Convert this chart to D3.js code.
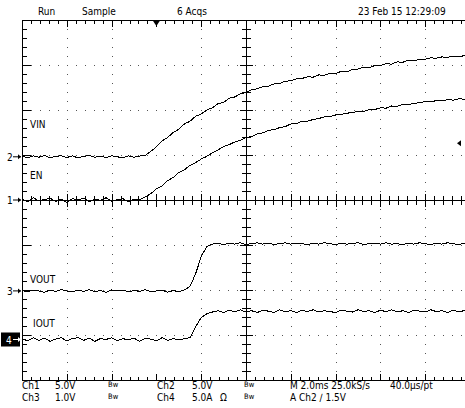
<!DOCTYPE html>
<html lang="en">
<head>
<meta charset="UTF-8">
<title>Scope capture</title>
<script src="https://d3js.org/d3.v7.min.js"></script>
<style>
  body { margin: 0; background: #fff; }
  svg text { font-family: "Liberation Sans Narrow", "DejaVu Sans Condensed", "Liberation Sans", sans-serif; font-size: 10px; fill: #000; }
</style>
</head>
<body>
<svg id="scope" width="465" height="408"></svg>
<script>
// sample times, ms from trigger (2 ms/div)
var timeMs = [-6,-5.75,-5.5,-5.25,-5,-4.75,-4.5,-4.25,-4,-3.75,-3.5,-3.25,-3,-2.75,-2.5,-2.25,-2,-1.75,-1.5,-1.25,-1,-0.75,-0.5,-0.25,
  0,0.25,0.5,0.75,1,1.25,1.5,1.75,2,2.25,2.5,2.75,3,3.25,3.5,3.75,4,4.25,4.5,4.75,5,5.25,5.5,5.75,6,6.25,6.5,6.75,7,7.25,7.5,7.75,
  8,8.25,8.5,8.75,9,9.25,9.5,9.75,10,10.25,10.5,10.75,11,11.25,11.5,11.75,12,12.25,12.5,12.75,13,13.25,13.5,13.75,14];

// Ch2 VIN (V)
var vin = [0.05,-0.1,0.1,-0.05,0.15,-0.1,0.05,0.12,-0.08,0.1,-0.12,0.05,0.15,-0.05,0.08,-0.1,0.12,0,-0.1,0.1,-0.05,0.08,
  0.15,0.6,1.1,1.75,2.15,2.7,3.05,3.65,3.95,4.5,4.75,5.2,5.45,5.9,6.05,6.5,6.65,7.0,7.15,7.45,7.55,7.8,7.85,8.1,8.15,8.4,
  8.45,8.65,8.7,8.9,8.85,9.1,9.05,9.3,9.25,9.5,9.45,9.7,9.75,9.95,9.9,10.15,10.15,10.35,10.3,10.55,10.5,10.75,10.65,10.85,
  10.85,11.0,10.95,11.1,11.05,11.2,11.1,11.25,11.2];

// Ch1 EN (V)
var en = [0.1,-0.2,0.25,-0.1,0.05,0.2,-0.15,0.1,-0.25,0.15,0,0.2,-0.2,0.1,-0.05,0.25,-0.15,0.05,0.15,-0.2,0.1,0.05,
  0.35,0.7,1.25,1.55,2.15,2.5,3.05,3.35,3.85,4.15,4.55,4.85,5.25,5.55,5.95,6.15,6.45,6.65,6.95,7.05,7.35,7.45,7.75,7.8,
  8.05,8.15,8.45,8.5,8.75,8.75,8.95,9.05,9.25,9.25,9.45,9.5,9.65,9.7,9.85,9.85,10.05,10.05,10.25,10.2,10.45,10.4,10.65,
  10.6,10.75,10.8,10.95,10.9,11.05,11.0,11.15,11.1,11.25,11.2,11.25];

// Ch3 VOUT (V)
var vout = [0.01,-0.02,0.02,0,-0.03,0.02,-0.01,0.03,0,-0.02,0.02,-0.01,0.03,-0.02,0.01,-0.03,0.02,0,0.02,-0.02,0.01,-0.01,
  0.03,-0.02,0,0.02,-0.03,0.01,-0.02,0.02,
  0.1,0.38,0.76,0.99,1.04,1.06,1.03,1.06,1.04,1.07,1.03,1.05,1.07,1.04,1.06,1.03,1.05,1.07,1.04,1.06,1.05,1.03,1.06,1.04,
  1.07,1.05,1.03,1.06,1.04,1.05,1.07,1.03,1.05,1.06,1.04,1.07,1.04,1.05,1.03,1.06,1.04,1.07,1.05,1.03,1.06,1.04,1.07,
  1.05,1.03,1.06,1.04];

// Ch4 IOUT (A)
var iout = [0.1,-0.15,0.2,-0.1,0.15,-0.2,0.05,0.2,-0.15,0.1,0.2,-0.1,0.15,-0.2,0.1,0,0.2,-0.15,0.1,-0.05,0.15,-0.2,
  0.1,0.05,-0.15,0.2,-0.1,0.1,-0.05,0.1,
  0.2,1.4,2.45,2.85,3.05,3.2,3.0,3.25,3.1,3.3,3.05,3.2,3.0,3.25,3.15,3.0,3.3,3.1,3.2,3.0,3.25,3.1,3.3,3.05,3.2,3.1,3.0,
  3.25,3.15,3.05,3.3,3.1,3.2,3.0,3.25,3.1,3.3,3.05,3.2,3.0,3.25,3.15,3.05,3.3,3.1,3.2,3.0,3.25,3.1,3.2,3.05];

var channelNames = ["Ch1", "Ch2", "Ch3", "Ch4"];
var traceLabels = ["EN", "VIN", "VOUT", "IOUT"];
var unitsPerDiv = [5, 5, 1, 5];
var groundDiv = [0, 0.96, -2.02, -3.1];   // ground marker, divisions from centre

var headerTexts = ["Run", "Sample", "6 Acqs", "23 Feb 15 12:29:09"];
var statusRow1 = ["Ch1", "5.0V", "Bw", "Ch2", "5.0V", "Bw", "M 2.0ms 25.0kS/s", "40.0\u00b5s/pt"];
var statusRow2 = ["Ch3", "1.0V", "Bw", "Ch4", "5.0A", "\u03a9", "Bw", "A  Ch2  \u2215  1.5V"];
var triggerLevel = 1.5;   // V on Ch2

var svg = d3.select("#scope");
var x = d3.scaleLinear().domain([-6, 14]).range([22, 470]);
var gy = d3.scaleLinear().domain([-4, 4]).range([380, 20]);

var grid = svg.append("g");

function pix(px, py, w, h, col) {
  grid.append("rect").attr("x", px).attr("y", py).attr("width", w).attr("height", h).attr("fill", col || "#000");
}

var L = Math.round(x(-6)), T = Math.round(gy(4)), B = Math.round(gy(-4)), R = Math.round(x(14));
var CX = Math.round(x(4)), CY = Math.round(gy(0));

// frame and centre cross
pix(L, T, R - L, 1);
pix(L, B, R - L, 1);
pix(L, T, 1, B - T + 1);
pix(CX, T, 1, B - T);
pix(L, CY, R - L, 1);

// dotted major lines
var minorX = d3.range(1, 50).map(function(i) { return -6 + i * 0.4; });
var minorY = d3.range(1, 40).map(function(i) { return -4 + i * 0.2; });
[-4, -2, 2, 4, 6, 8, 10, 12].forEach(function(t) {
  minorY.forEach(function(d) { pix(Math.round(x(t)), Math.round(gy(d)), 1, 1, "#555"); });
});
[-3, -2, -1, 1, 2, 3].forEach(function(dv) {
  minorX.forEach(function(d) { pix(Math.round(x(d)), Math.round(gy(dv)), 1, 1, "#555"); });
});

function isMajorX(t) { return Math.abs((t + 6) / 2 - Math.round((t + 6) / 2)) < 1e-6; }
function isMajorY(d) { return Math.abs(d - Math.round(d)) < 1e-6; }

// ticks along top/bottom border and horizontal centre line
minorX.forEach(function(d) {
  var xx = Math.round(x(d));
  var len = isMajorX(d) ? 7 : 4;
  var half = isMajorX(d) ? 6 : 4;
  pix(xx, T, 1, len);
  pix(xx, B - len + 1, 1, len);
  pix(xx, CY - half, 1, 2 * half + 1);
});
// ticks along left border and vertical centre line
minorY.forEach(function(d) {
  var yy = Math.round(gy(d));
  var len = isMajorY(d) ? 9 : 5;
  var half = isMajorY(d) ? 6 : 4;
  pix(L, yy, len, 1);
  pix(CX - half, yy, 2 * half + 1, 1);
});

// traces
var series = [en, vin, vout, iout];
svg.append("clipPath").attr("id", "plotClip").append("rect")
  .attr("x", L).attr("y", T).attr("width", R - L).attr("height", B - T);

series.forEach(function(vals, c) {
  var line = d3.line()
    .x(function(d, i) { return x(timeMs[i]); })
    .y(function(d) { return gy(groundDiv[c] + d / unitsPerDiv[c]); });
  svg.append("path").datum(vals)
    .attr("clip-path", "url(#plotClip)")
    .attr("fill", "none").attr("stroke", "#000").attr("stroke-width", 1)
    .attr("shape-rendering", "crispEdges")
    .attr("d", line);
});

// trace names
var labelPos = [[30, 179], [30, 128], [30, 283], [33, 327]];
traceLabels.forEach(function(name, c) {
  svg.append("text").attr("x", labelPos[c][0]).attr("y", labelPos[c][1]).text(name);
});

// ground markers
channelNames.forEach(function(name, c) {
  var yy = gy(groundDiv[c]);
  var inv = c === 3;
  if (inv) {
    svg.append("rect").attr("x", 1).attr("y", yy - 7).attr("width", 19).attr("height", 14).attr("fill", "#000");
  }
  var col = inv ? "#fff" : "#000";
  svg.append("text").attr("x", inv ? 6 : 7).attr("y", yy + 4).style("fill", col).text(String(c + 1));
  svg.append("line").attr("x1", 13).attr("x2", 21).attr("y1", yy).attr("y2", yy).attr("stroke", col);
  svg.append("path").attr("d", "M21," + yy + "l-3,-2.5v5z").attr("fill", col);
});

// trigger position and level
svg.append("path").attr("d", "M" + (x(0) - 4) + "," + gy(4) + "h8l-4,6z").attr("fill", "#000");
var ty = gy(groundDiv[1] + triggerLevel / unitsPerDiv[1]);
svg.append("path").attr("d", "M457," + ty + "l4,-3v6z").attr("fill", "#000");

// header and status lines
var headerX = [38, 82, 177, 358];
headerTexts.forEach(function(s, i) {
  svg.append("text").attr("x", headerX[i]).attr("y", 15).text(s);
});
var row1X = [22, 55, 108, 157, 192, 244, 290, 390];
var row2X = [22, 55, 108, 157, 192, 220, 244, 290];
function statusRow(texts, xs, yy) {
  texts.forEach(function(s, i) {
    var t = svg.append("text").attr("x", xs[i]).attr("y", s === "Bw" ? yy - 2 : yy).text(s);
    if (s === "Bw") t.style("font-size", "7.5px");
  });
}
statusRow(statusRow1, row1X, 389);
statusRow(statusRow2, row2X, 401);
</script>
</body>
</html>
